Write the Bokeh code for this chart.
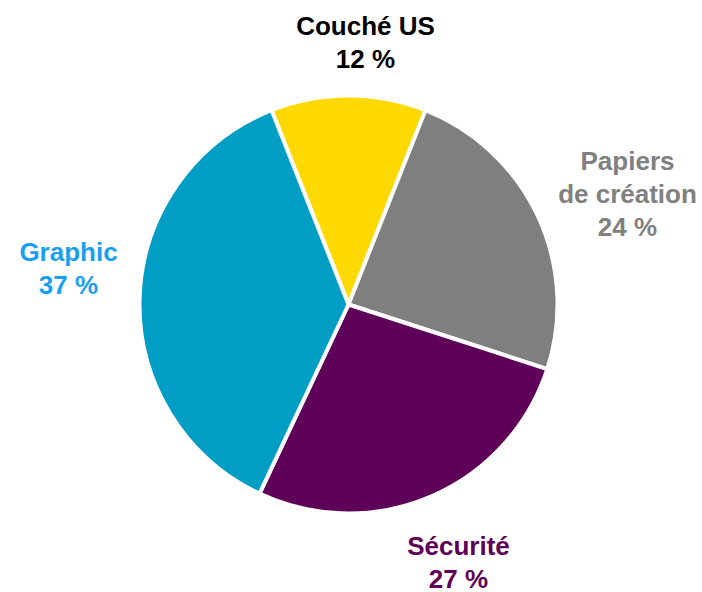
import math
from bokeh.plotting import figure
from bokeh.models import Range1d, ColumnDataSource
from bokeh.core.properties import value
from bokeh.embed import file_html
from bokeh.resources import INLINE

categories = ["Couché US", "Papiers de création", "Sécurité", "Graphic"]
shares = [12, 24, 27, 37]
slice_colors = ["#FFD900", "#7F7F7F", "#5E0058", "#009EC4"]
label_lines = [["Couché US", "12 %"], ["Papiers", "de création", "24 %"],
               ["Sécurité", "27 %"], ["Graphic", "37 %"]]
label_colors = ["#000000", "#808080", "#5E0058", "#1A9FEF"]

W, H = 702, 592
p = figure(width=W, height=H, output_backend="svg", toolbar_location=None,
           x_range=Range1d(0, W), y_range=Range1d(592 - H, 592),
           min_border=0)
p.axis.visible = False
p.grid.visible = False
p.outline_line_color = None
p.background_fill_color = "white"
p.border_fill_color = "white"

cx, cy, r = 348, 592 - 304, 209
total = sum(shares)
a0 = math.pi / 2 + math.pi * shares[0] / total
starts, ends = [], []
cum = 0
for s in shares:
    starts.append(a0 - 2 * math.pi * cum / total)
    cum += s
    ends.append(a0 - 2 * math.pi * cum / total)

src = ColumnDataSource(dict(start=starts, end=ends, color=slice_colors, cat=categories))
p.wedge(x=cx, y=cy, radius=r, start_angle="start", end_angle="end", direction="clock",
        fill_color="color", line_color="white", line_width=4, source=src)

# label anchor positions (screen px of first line center)
anchors = [(365, 25), (627, 160), (458, 545), (68, 251)]
line_h = 33
xs, ys, ts, cs = [], [], [], []
for (ax, ay), lines, col in zip(anchors, label_lines, label_colors):
    for i, t in enumerate(lines):
        xs.append(ax)
        ys.append(592 - (ay + i * line_h))
        ts.append(t)
        cs.append(col)
p.text(x=xs, y=ys, text=ts, text_color=cs, text_align="center", text_baseline="middle",
       text_font=value("Liberation Sans"), text_font_style="bold", text_font_size="26px")

open("out.html", "w").write(file_html(p, INLINE))
